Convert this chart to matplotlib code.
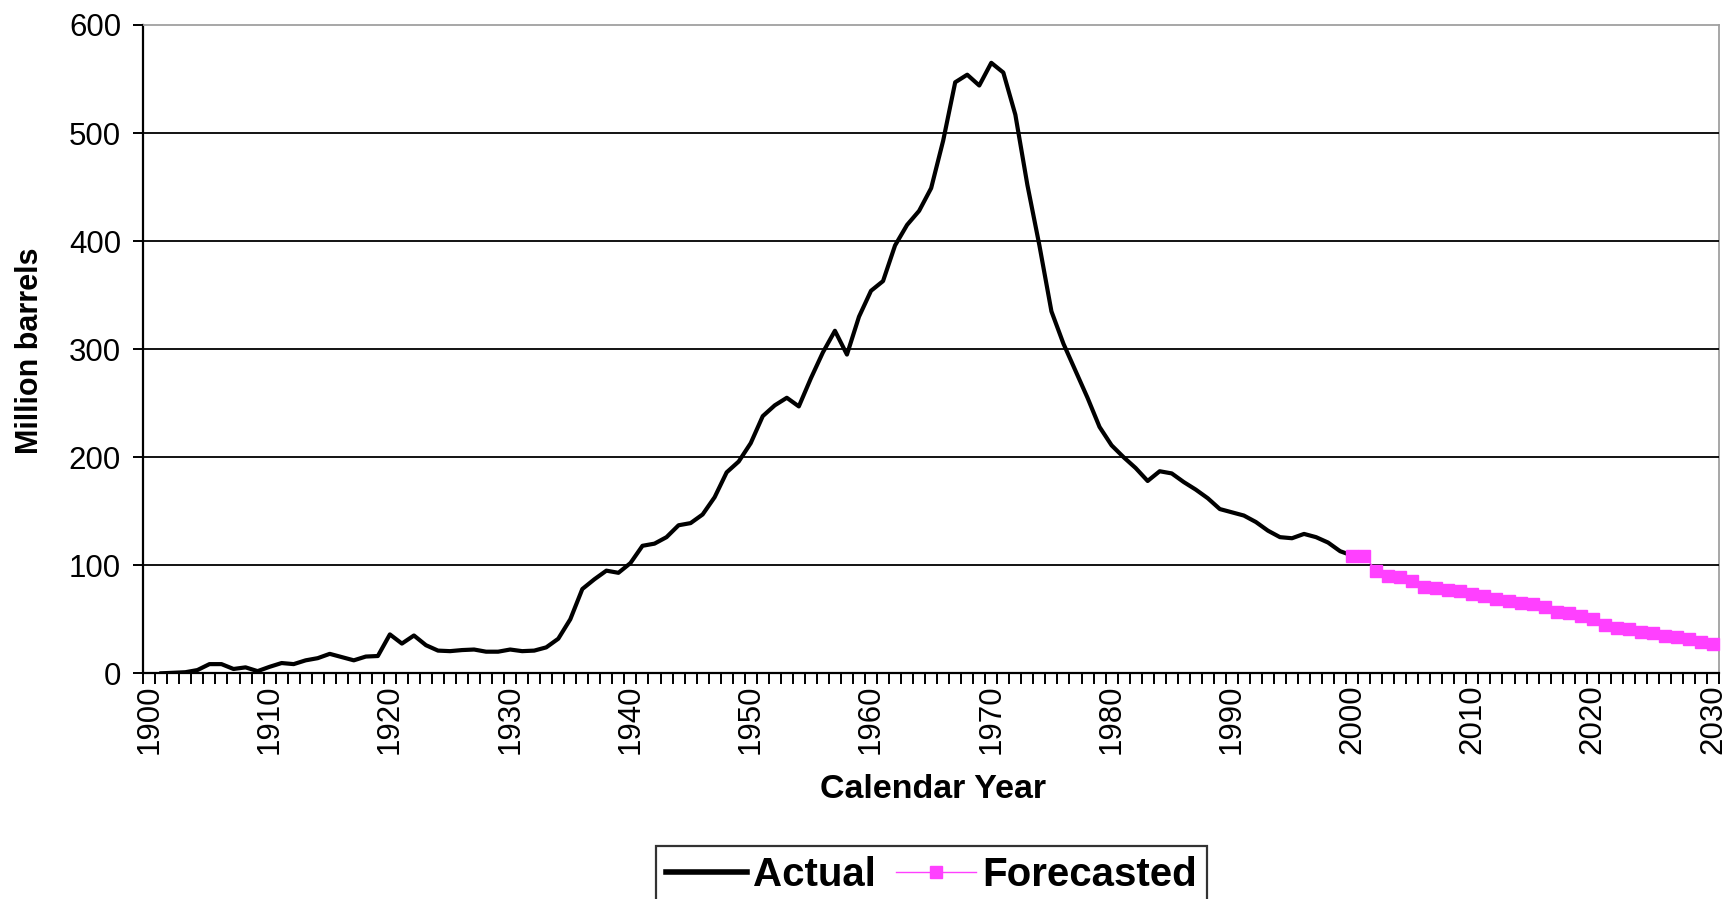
import numpy as np
import matplotlib
matplotlib.use("Agg")
import matplotlib.pyplot as plt
from matplotlib.ticker import FixedLocator

plt.rcParams['font.family'] = ['Liberation Sans', 'DejaVu Sans']

# ---- data -------------------------------------------------------------
actual_years = list(range(1901, 2001))
actual_values = [
    0, 0.5, 1, 3, 8.5, 8.5, 4, 5.5, 2, 6,            # 1901-1910
    9.5, 8.5, 12, 14, 18, 15, 12, 15.5, 16, 36,      # 1911-1920
    27.5, 35, 26, 21, 20.5, 21.5, 22, 20, 20, 22,    # 1921-1930
    20.5, 21, 24, 32, 50, 78, 87, 95, 93, 102,       # 1931-1940
    118, 120, 126, 137, 139, 147, 163, 186, 196, 213,  # 1941-1950
    238, 248, 255, 247, 273, 297, 317, 295, 330, 354,  # 1951-1960
    363, 396, 415, 428, 449, 493, 547, 554, 544, 565,  # 1961-1970
    556, 517, 452, 396, 335, 305, 280, 255, 228, 211,  # 1971-1980
    200, 190, 178, 187, 185, 177, 170, 162, 152, 149,  # 1981-1990
    146, 140, 132, 126, 125, 129, 126, 121, 113, 109,  # 1991-2000
]

forecast_years = list(range(2000, 2031))
forecast_values = [
    109, 109, 95, 90, 89, 85, 80, 79, 77, 76,
    73.5, 71.5, 68.5, 67, 65, 64, 61, 57, 55.5, 53,
    50, 45, 42, 41, 38, 37, 34.5, 34, 32, 29, 27.5,
]

x_label_years = list(range(1900, 2031, 10))
y_ticks = [0, 100, 200, 300, 400, 500, 600]

series_names = ["Actual", "Forecasted"]
x_title = "Calendar Year"
y_title = "Million barrels"

# ---- figure -----------------------------------------------------------
W, H = 1729, 899
fig = plt.figure(figsize=(W / 100, H / 100), dpi=100)
left, right, top, bottom = 143.3, 1719, 25, 673.3
ax = fig.add_axes([left / W, 1 - bottom / H, (right - left) / W, (bottom - top) / H])

pink = '#ff40ff'
ax.plot(actual_years, actual_values, color='black', lw=3.0, zorder=3,
        solid_joinstyle='round', label=series_names[0])
ax.plot(forecast_years, forecast_values, color=pink, lw=1.0, marker='s',
        ms=9, mfc=pink, mec=pink, zorder=4, clip_on=False,
        label=series_names[1])

ax.set_xlim(x_label_years[0] - 0.5, x_label_years[-1] + 0.5)
ax.set_ylim(y_ticks[0], y_ticks[-1])

# y axis
ax.set_yticks(y_ticks)
ax.tick_params(axis='y', direction='out', length=7, width=1.4, pad=9,
               labelsize=22.5, colors='black')
ax.yaxis.grid(True, color='black', lw=1.3, zorder=1)
ax.get_ygridlines()[-1].set_visible(False)

# x axis: labels at category centres, tick marks at category boundaries
ax.set_xticks(x_label_years)
ax.set_xticklabels([str(y) for y in x_label_years], rotation=90)
ax.xaxis.set_minor_locator(FixedLocator(
    np.arange(x_label_years[0] - 0.5, x_label_years[-1] + 1.0, 1.0)))
ax.tick_params(axis='x', which='major', length=0, pad=8, labelsize=22.5)
ax.tick_params(axis='x', which='minor', direction='out', length=8, width=1.4)

for s in ['left', 'bottom']:
    ax.spines[s].set_color('black')
    ax.spines[s].set_linewidth(1.6)
for s in ['top', 'right']:
    ax.spines[s].set_color('#a0a0a0')
    ax.spines[s].set_linewidth(1.3)
ax.set_axisbelow(False)

fig.text(933 / W, 1 - 790 / H, x_title, ha='center', va='center',
         fontsize=24.5, fontweight='bold')
fig.text(30 / W, 1 - 351 / H, y_title, ha='center', va='center',
         rotation=90, fontsize=22, fontweight='bold')

leg = fig.legend(loc='upper center', bbox_to_anchor=(931.5 / W, 1 - 846 / H),
                 ncol=2, prop={'weight': 'bold', 'size': 29},
                 frameon=True, fancybox=False, shadow=False,
                 handlelength=2.0, handletextpad=0.15, columnspacing=0.5,
                 borderpad=0.25, borderaxespad=0)
leg.get_frame().set_edgecolor('black')
leg.get_frame().set_linewidth(1.6)
leg.get_lines()[0].set_linewidth(4.0)

fig.savefig('out.png', dpi=100)
